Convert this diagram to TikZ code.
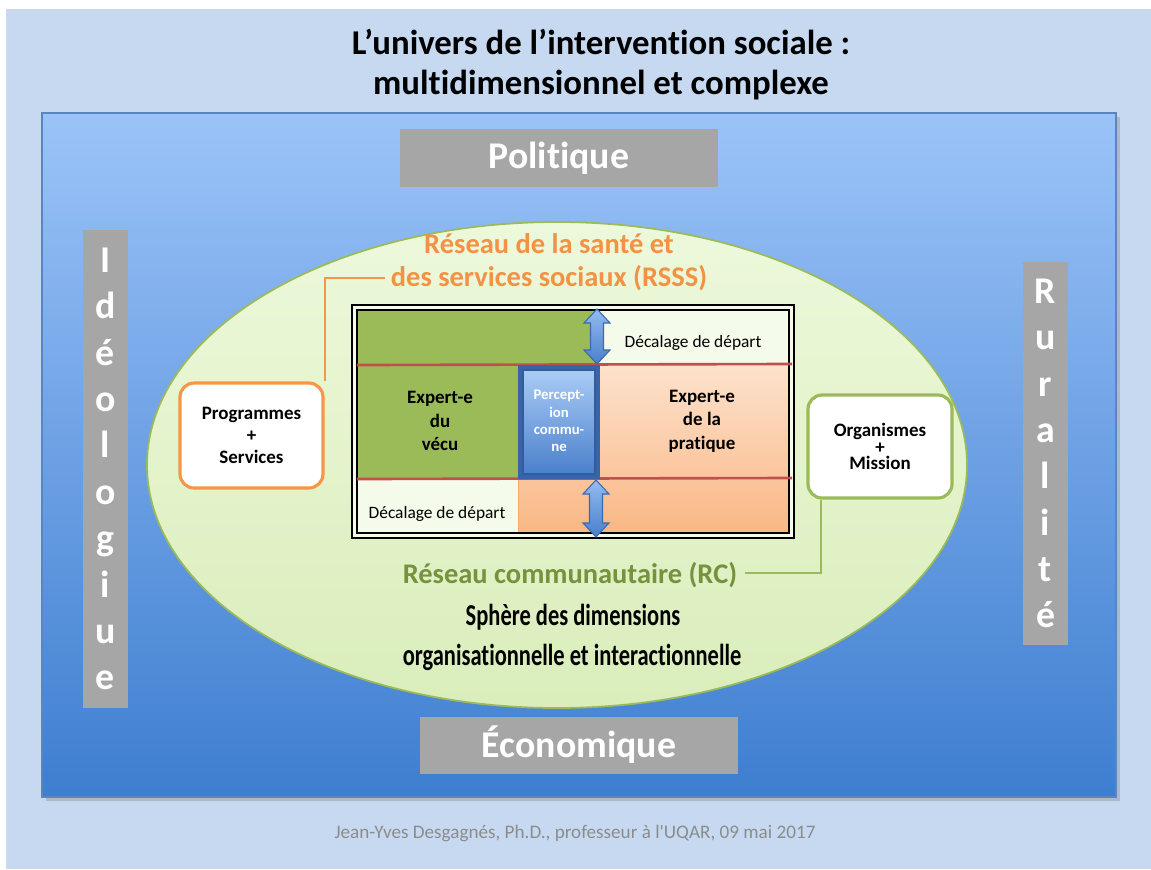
\documentclass[tikz,border=0pt]{standalone}
\usepackage{fontspec}
\setmainfont{Carlito}[Ligatures={TeX,NoCommon}]
\newfontfamily\footfont{Carlito}[Ligatures=NoCommon]
\usetikzlibrary{shapes.geometric,shadows,calc}
\definecolor{bgblue}{HTML}{C6D9F1}
\definecolor{paneltop}{HTML}{9BC3F8}
\definecolor{panelbot}{HTML}{3E7ED0}
\definecolor{paneledge}{HTML}{5A86C0}
\definecolor{graybox}{HTML}{A6A6A6}
\definecolor{spherefill}{HTML}{E5F6CC}
\definecolor{spheredge}{HTML}{9BBB59}
\definecolor{olivegreen}{HTML}{9BBB59}
\definecolor{darkgreen}{HTML}{76923C}
\definecolor{orangetxt}{HTML}{F39244}
\definecolor{orangeline}{HTML}{F79646}
\definecolor{peachtop}{HTML}{FDE2CD}
\definecolor{peachbot}{HTML}{F9B784}
\definecolor{redline}{HTML}{C0504D}
\definecolor{arrowtop}{HTML}{93BCF2}
\definecolor{arrowbot}{HTML}{4A7FCB}
\definecolor{arrowedge}{HTML}{3A6AAE}
\definecolor{percout}{HTML}{3A64A5}
\definecolor{perctop}{HTML}{AACCF6}
\definecolor{percbot}{HTML}{4A80CC}
\definecolor{percedge}{HTML}{325C9E}
\definecolor{footgray}{HTML}{8C8C8C}
\def\PX{0.02cm}
\newcommand{\blockarrow}[3]{%
  \shadedraw[top color=arrowtop,bottom color=arrowbot,draw=arrowedge,line width=0.6pt]
  (#1,#2) -- ++(13,14) -- ++(-6.5,0) -- (#1+6.5,#3-14) -- ++(6.5,0) -- (#1,#3)
  -- ++(-13,-14) -- ++(6.5,0) -- (#1-6.5,#2+14) -- ++(-6.5,0) -- cycle;}
\begin{document}
\begin{tikzpicture}[x=0.02cm,y=-0.02cm,
  greylabel/.style={fill=graybox,text=white,font=\fontsize{21.5}{26.4}\selectfont\bfseries,inner sep=0pt,align=center},
  roundbox/.style={rounded corners=8pt,fill=white,line width=1.8pt,inner sep=0pt,align=center,
     font=\fontsize{10.8}{12.5}\selectfont\bfseries},
  cell/.style={font=\fontsize{10.8}{13.3}\selectfont\bfseries,align=center,inner sep=0pt},
  shiftlabel/.style={font=\fontsize{9.9}{12}\selectfont,inner sep=0pt},
  network/.style={font=\fontsize{16.2}{18.7}\selectfont\bfseries,align=center,inner sep=0pt},
  warped/.style={font=\fontsize{12.8}{12.8}\selectfont\bfseries,inner sep=0pt,yscale=1.35,transform shape}]
\useasboundingbox (0,0) rectangle (1151,869);
\fill[white] (0,0) rectangle (1151,869);
\fill[bgblue] (6,9) rectangle (1151,869);
% title
\node[font=\fontsize{19.8}{22.7}\selectfont\bfseries,align=center,inner sep=0pt] (title) at (601,65)
  {L’univers de l’intervention sociale :\\multidimensionnel et complexe};
% blue panel
\shade[top color=paneltop,bottom color=panelbot,drop shadow={opacity=0.35,shadow xshift=2pt,shadow yshift=-2pt}]
  (42,113) rectangle (1116,797);
\draw[paneledge,line width=0.7pt] (42,113) rectangle (1116,797);
% gray labels
\node[greylabel,minimum width=318*\PX,minimum height=58*\PX] (pol) at (559,158) {Politique};
\node[greylabel,minimum width=318*\PX,minimum height=57*\PX] (eco) at (579,745) {Économique};
\node[greylabel,minimum width=45*\PX,minimum height=478*\PX] (ideo) at (105.5,469)
  {I\\d\\é\\o\\l\\o\\g\\i\\u\\e};
\node[greylabel,minimum width=45*\PX,minimum height=383*\PX] (rur) at (1045.5,453.5)
  {R\\u\\r\\a\\l\\i\\t\\é};
% sphere
\node[ellipse,minimum width=820*\PX,minimum height=486*\PX,inner sep=0pt,
  top color=spherefill!70!white,bottom color=spherefill!85!olivegreen,draw=spheredge,line width=1pt] (sphere) at (557,465) {};
% network titles
\node[network,text=orangetxt] (rsss) at (549,262) {Réseau de la santé et\\des services sociaux (RSSS)};
\node[network,text=darkgreen] (rc) at (570,575) {Réseau communautaire (RC)};
\node[warped] (dims1) at (573,617) {Sphère des dimensions};
\node[warped] (dims2) at (572,657) {organisationnelle et interactionnelle};
% central frame
\fill[white!60!spherefill] (352,305) rectangle (794,538);
\fill[olivegreen] (357,310) rectangle (597,364);
\fill[olivegreen] (357,364) rectangle (518,479);
\shadedraw[top color=peachtop,bottom color=peachbot,draw=orangeline!80,line width=0.5pt] (518,364) rectangle (789,533);
\draw[black,line width=1.6pt] (352,305) rectangle (794,538);
\draw[black,line width=1.1pt] (357,310) rectangle (789,533);
\draw[redline,line width=1.5pt] (357,365) -- (792,364);
\draw[redline,line width=1.5pt] (357,479) -- (792,478);
% perception commune
\fill[percout] (518,365) rectangle (600,479);
\shadedraw[top color=perctop,bottom color=percbot,draw=percedge,line width=0.6pt] (523,370) rectangle (595,474);
\node[font=\fontsize{8.4}{9.9}\selectfont\bfseries,text=white,align=center,inner sep=0pt] (perc) at (559,421)
  {Percept-\\ion\\commu-\\ne};
% arrows
\blockarrow{597}{309}{364}
\blockarrow{596}{480}{537}
% cell texts
\node[cell] (vecu) at (440,421) {Expert-e\\du\\vécu};
\node[cell] (prat) at (702,421) {Expert-e\\de la\\pratique};
\node[shiftlabel] (dec1) at (693,343) {Décalage de départ};
\node[shiftlabel] (dec2) at (437,514) {Décalage de départ};
% side boxes
\node[roundbox,draw=orangeline,minimum width=143*\PX,minimum height=105*\PX] (prog) at (251.5,435.5)
  {Programmes\\+\\Services};
\node[roundbox,draw=olivegreen,minimum width=144*\PX,minimum height=103*\PX,
  font=\fontsize{10.8}{9.4}\selectfont\bfseries] (org) at (880,446.5)
  {Organismes\\+\\Mission};
\coordinate (rssstip) at (385,278);
\coordinate (rctip) at (745,573);
\draw[orangeline,line width=1.2pt] (prog.north east) |- (rssstip);
\draw[olivegreen,line width=1.2pt] ([xshift=15*\PX]org.south west) |- (rctip);
% footer
\node[font=\fontsize{10.9}{12}\footfont,text=footgray,inner sep=0pt] (foot) at (575,833)
  {Jean-Yves Desgagnés, Ph.D., professeur à l'UQAR, 09 mai 2017};
\end{tikzpicture}
\end{document}
